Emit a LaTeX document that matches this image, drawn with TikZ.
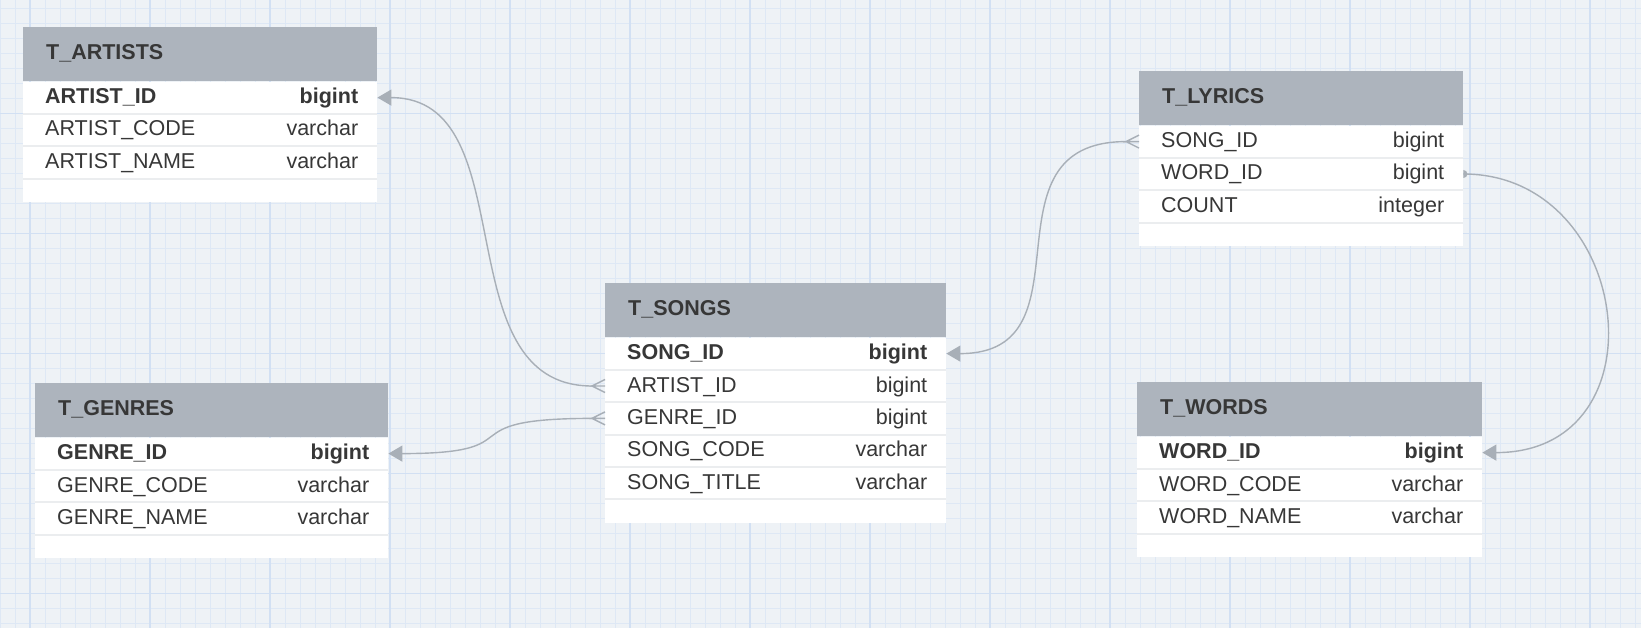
\documentclass[tikz,border=0pt]{standalone}
\usepackage{fontspec}
\setmainfont{Liberation Sans}
\usetikzlibrary{arrows.meta}

\definecolor{paper}{RGB}{238,242,246}
\definecolor{gridminor}{RGB}{222,232,245}
\definecolor{gridmajor}{RGB}{210,224,243}
\definecolor{headgray}{RGB}{173,180,189}
\definecolor{ink}{RGB}{55,55,55}
\definecolor{rowline}{RGB}{235,237,239}
\definecolor{linkgray}{RGB}{168,175,183}

\newcommand\dbfield[3]{\makebox[#1]{\hspace{3pt}#2\hfill#3}}

\tikzset{
  head/.style={fill=headgray, text=ink, font=\fontsize{21.5pt}{25pt}\selectfont\bfseries,
    anchor=north west, minimum height=54pt, inner xsep=23pt, inner ysep=0pt,
    text height=15pt, text depth=5pt},
  row/.style={fill=white, text=ink, font=\fontsize{21.5pt}{25pt}\selectfont,
    anchor=north west, minimum height=32pt, inner xsep=19pt, inner ysep=0pt,
    text height=15pt, text depth=3pt},
  key/.style={row, font=\fontsize{21.5pt}{25pt}\selectfont\bfseries},
  tail/.style={fill=white, anchor=north west, minimum height=23pt, inner sep=0pt},
  sep/.style={rowline, line width=2pt},
  link/.style={linkgray, line width=1.4pt},
  one/.style={-{Triangle[length=14pt,width=16pt]}},
}

\begin{document}
\begin{tikzpicture}[x=1pt,y=-1pt]

\useasboundingbox (0,0) rectangle (1641,628);
\fill [paper] (0,0) rectangle (1641,628);
\foreach \x in {0,15,...,1640} \draw [gridminor, line width=1pt] (\x,0) -- (\x,628);
\foreach \y in {8.3,23.3,...,628} \draw [gridminor, line width=1pt] (0,\y) -- (1641,\y);
\foreach \x in {30,150,...,1640} \draw [gridmajor, line width=1.2pt] (\x,0) -- (\x,628);
\foreach \y in {113.3,233.3,...,628} \draw [gridmajor, line width=1.2pt] (0,\y) -- (1641,\y);

% T_ARTISTS
\node [head] (artists) at (23,27) {\makebox[308pt][l]{T\_ARTISTS}};
\node [key] (artists-id) at (artists.south west) {\dbfield{316pt}{ARTIST\_ID}{bigint}};
\node [row] (artists-code) at (artists-id.south west) {\dbfield{316pt}{ARTIST\_CODE}{varchar}};
\node [row] (artists-name) at (artists-code.south west) {\dbfield{316pt}{ARTIST\_NAME}{varchar}};
\node [tail, minimum width=354pt] (artists-end) at (artists-name.south west) {};

% T_GENRES
\node [head] (genres) at (35,383) {\makebox[307pt][l]{T\_GENRES}};
\node [key] (genres-id) at (genres.south west) {\dbfield{315pt}{GENRE\_ID}{bigint}};
\node [row] (genres-code) at (genres-id.south west) {\dbfield{315pt}{GENRE\_CODE}{varchar}};
\node [row] (genres-name) at (genres-code.south west) {\dbfield{315pt}{GENRE\_NAME}{varchar}};
\node [tail, minimum width=353pt] (genres-end) at (genres-name.south west) {};

% T_SONGS
\node [head] (songs) at (605,283) {\makebox[295pt][l]{T\_SONGS}};
\node [key] (songs-id) at (songs.south west) {\dbfield{303pt}{SONG\_ID}{bigint}};
\node [row] (songs-artist) at (songs-id.south west) {\dbfield{303pt}{ARTIST\_ID}{bigint}};
\node [row] (songs-genre) at (songs-artist.south west) {\dbfield{303pt}{GENRE\_ID}{bigint}};
\node [row] (songs-code) at (songs-genre.south west) {\dbfield{303pt}{SONG\_CODE}{varchar}};
\node [row] (songs-title) at (songs-code.south west) {\dbfield{303pt}{SONG\_TITLE}{varchar}};
\node [tail, minimum width=341pt] (songs-end) at (songs-title.south west) {};

% T_LYRICS
\node [head] (lyrics) at (1139,71) {\makebox[278pt][l]{T\_LYRICS}};
\node [row] (lyrics-song) at (lyrics.south west) {\dbfield{286pt}{SONG\_ID}{bigint}};
\node [row] (lyrics-word) at (lyrics-song.south west) {\dbfield{286pt}{WORD\_ID}{bigint}};
\node [row] (lyrics-count) at (lyrics-word.south west) {\dbfield{286pt}{COUNT}{integer}};
\node [tail, minimum width=324pt] (lyrics-end) at (lyrics-count.south west) {};

% T_WORDS
\node [head] (words) at (1137,382) {\makebox[299pt][l]{T\_WORDS}};
\node [key] (words-id) at (words.south west) {\dbfield{307pt}{WORD\_ID}{bigint}};
\node [row] (words-code) at (words-id.south west) {\dbfield{307pt}{WORD\_CODE}{varchar}};
\node [row] (words-name) at (words-code.south west) {\dbfield{307pt}{WORD\_NAME}{varchar}};
\node [tail, minimum width=345pt] (words-end) at (words-name.south west) {};

\foreach \r in {artists-id,artists-code,artists-name,genres-id,genres-code,genres-name,
  songs-id,songs-artist,songs-genre,songs-code,songs-title,
  lyrics-song,lyrics-word,lyrics-count,words-id,words-code,words-name}
  \draw [sep] (\r.south west) -- (\r.south east);

% links
\draw [link, one] ([xshift=-13pt]songs-artist.west) .. controls +(-150,0) and +(150,0) .. (artists-id.east);
\draw [link, one] ([xshift=-13pt]songs-genre.west) .. controls +(-150,0) and +(150,0) .. (genres-id.east);
\draw [link, one] ([xshift=-13pt]lyrics-song.west) .. controls +(-150,0) and +(150,0) .. (songs-id.east);
\draw [link, one] (lyrics-word.east) .. controls +(170,0) and +(184,0) .. (words-id.east);

% crow feet
\draw [link] (songs-artist.west) -- ++(-13,0) -- ++(13,-6.5) ++(-13,6.5) -- ++(13,6.5);
\draw [link] (songs-genre.west) -- ++(-13,0) -- ++(13,-6.5) ++(-13,6.5) -- ++(13,6.5);
\draw [link] (lyrics-song.west) -- ++(-13,0) -- ++(13,-6.5) ++(-13,6.5) -- ++(13,6.5);
\fill [linkgray] ([yshift=-4pt]lyrics-word.east) arc [start angle=-90, end angle=90, radius=4pt];

\end{tikzpicture}
\end{document}
